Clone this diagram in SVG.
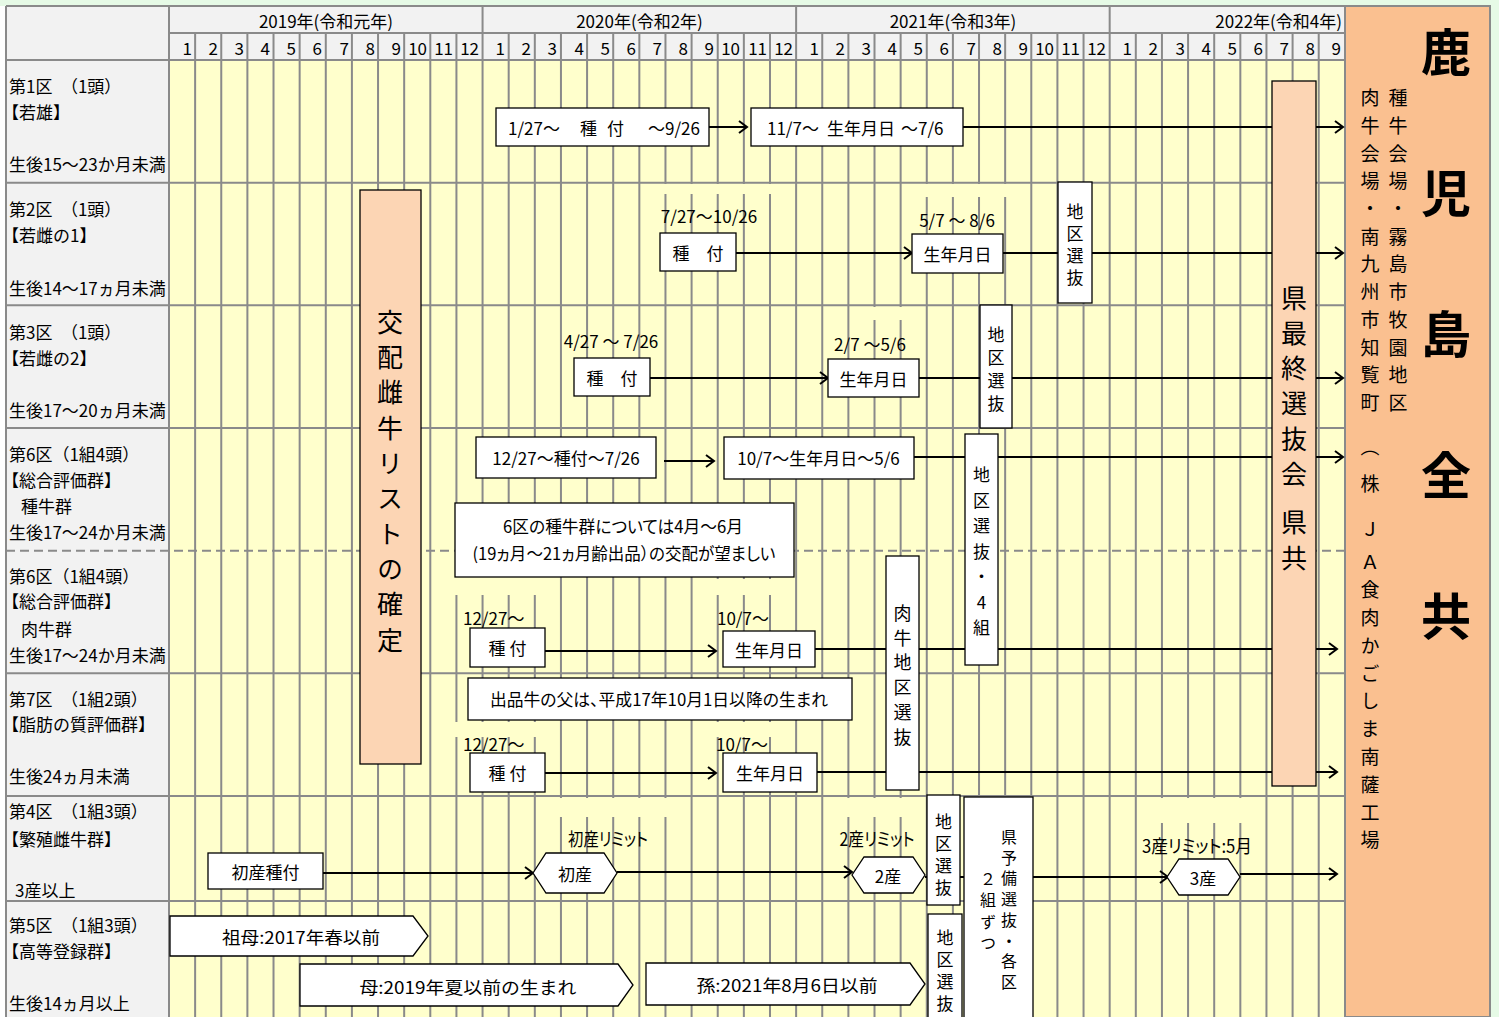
<svg xmlns="http://www.w3.org/2000/svg" width="1499" height="1017" viewBox="0 0 1499 1017">
<defs>
<style>
.t{font-family:"Noto Sans CJK JP","Noto Sans",sans-serif;font-size:17px;fill:#000;dominant-baseline:central}
.c{text-anchor:middle}
.e{text-anchor:end}
.v{writing-mode:vertical-rl;text-orientation:upright;text-anchor:start}
.p{font-feature-settings:"palt"}
.box{fill:#fff;stroke:#000;stroke-width:1.3}
.peach{fill:#fcd5b4;stroke:#000;stroke-width:1.3}
.grid{stroke:#8a8a8a;stroke-width:2;fill:none}
.cov{fill:#ffffcc}
.ln{stroke:#000;stroke-width:2;fill:none}
.ar{marker-end:url(#ah)}
</style>
<marker id="ah" markerUnits="userSpaceOnUse" markerWidth="12" markerHeight="16" refX="10" refY="8" orient="auto">
<path d="M2,2 L10,8 L2,14" fill="none" stroke="#000" stroke-width="2"/>
</marker>
</defs>
<rect x="0" y="0" width="1499" height="1017" fill="#e6fae6"/>
<rect x="0" y="6" width="1345" height="1011" fill="#fff"/>
<g id="table">
<rect x="6" y="6" width="163" height="1011" fill="#f2f2f2"/>
<rect x="169" y="6" width="1176" height="54" fill="#f2f2f2"/>
<rect x="169" y="60" width="1176" height="957" fill="#ffffcc"/>
<path class="grid" d="M195.13,33V1017M221.26,33V1017M247.39,33V1017M273.52,33V1017M299.65,33V1017M325.78,33V1017M351.91,33V1017M378.04,33V1017M404.17,33V1017M430.3,33V1017M456.43,33V1017M508.69,33V1017M534.82,33V1017M560.95,33V1017M587.08,33V1017M613.21,33V1017M639.34,33V1017M665.47,33V1017M691.6,33V1017M717.73,33V1017M743.86,33V1017M769.99,33V1017M822.25,33V1017M848.38,33V1017M874.51,33V1017M900.64,33V1017M926.77,33V1017M952.9,33V1017M979.03,33V1017M1005.16,33V1017M1031.29,33V1017M1057.42,33V1017M1083.55,33V1017M1135.81,33V1017M1161.94,33V1017M1188.07,33V1017M1214.2,33V1017M1240.33,33V1017M1266.46,33V1017M1292.59,33V1017M1318.72,33V1017"/>
<path class="grid" d="M169,6V1017M482.56,6V1017M796.12,6V1017M1109.68,6V1017M6,6V1017"/>
<path class="grid" d="M6,6H1490M169,33H1345M6,60H1345M6,182.7H1345M6,305.3H1345M6,428H1345M6,673.3H1345M6,796H1345M6,901H1345"/>
<path class="grid" d="M6,550.7H1345" stroke-dasharray="9,5"/>
</g>
<g id="covers">
<rect class="cov" x="660" y="184" width="112" height="10"/>
<rect class="cov" x="920" y="184" width="90" height="13"/>
<rect class="cov" x="862" y="307" width="44" height="13"/>
<rect class="cov" x="556" y="798" width="113" height="19"/>
<rect class="cov" x="845" y="798" width="59" height="19"/>
<rect class="cov" x="1140" y="798" width="103" height="25"/>
<rect class="cov" x="452" y="552" width="88" height="43"/>
<rect class="cov" x="713" y="579" width="60" height="16"/>
<rect class="cov" x="452" y="722" width="88" height="15"/>
<rect class="cov" x="713" y="722" width="60" height="15"/>
</g>
<g id="header">
<text class="t c" x="326" y="20">2019年(令和元年)</text>
<text class="t c" x="639.5" y="20">2020年(令和2年)</text>
<text class="t c" x="953" y="20">2021年(令和3年)</text>
<text class="t e" x="1342" y="20">2022年(令和4年)</text>
<g class="t e">
<text x="192" y="47">1</text><text x="218" y="47">2</text><text x="244" y="47">3</text><text x="270" y="47">4</text><text x="296" y="47">5</text><text x="322" y="47">6</text><text x="349" y="47">7</text><text x="375" y="47">8</text><text x="401" y="47">9</text><text x="427" y="47">10</text><text x="453" y="47">11</text><text x="479" y="47">12</text>
<text x="505" y="47">1</text><text x="531" y="47">2</text><text x="557" y="47">3</text><text x="584" y="47">4</text><text x="610" y="47">5</text><text x="636" y="47">6</text><text x="662" y="47">7</text><text x="688" y="47">8</text><text x="714" y="47">9</text><text x="740" y="47">10</text><text x="767" y="47">11</text><text x="793" y="47">12</text>
<text x="819" y="47">1</text><text x="845" y="47">2</text><text x="871" y="47">3</text><text x="897" y="47">4</text><text x="923" y="47">5</text><text x="949" y="47">6</text><text x="976" y="47">7</text><text x="1002" y="47">8</text><text x="1028" y="47">9</text><text x="1054" y="47">10</text><text x="1080" y="47">11</text><text x="1106" y="47">12</text>
<text x="1132" y="47">1</text><text x="1158" y="47">2</text><text x="1185" y="47">3</text><text x="1211" y="47">4</text><text x="1237" y="47">5</text><text x="1263" y="47">6</text><text x="1289" y="47">7</text><text x="1315" y="47">8</text><text x="1341" y="47">9</text>
</g>
</g>
<g id="row-labels" class="t">
<text x="9" y="85">第1区　（1頭）</text>
<text x="2" y="111">【若雄】</text>
<text x="9" y="163">生後15～23か月未満</text>
<text x="9" y="208">第2区　（1頭）</text>
<text x="2" y="234">【若雌の1】</text>
<text x="9" y="287">生後14～17ヵ月未満</text>
<text x="9" y="331">第3区　（1頭）</text>
<text x="2" y="357">【若雌の2】</text>
<text x="9" y="409">生後17～20ヵ月未満</text>
<text x="9" y="453">第6区（1組4頭）</text>
<text x="2" y="479">【総合評価群】</text>
<text x="21" y="505">種牛群</text>
<text x="9" y="531">生後17～24か月未満</text>
<text x="9" y="575">第6区（1組4頭）</text>
<text x="2" y="600">【総合評価群】</text>
<text x="21" y="628">肉牛群</text>
<text x="9" y="654">生後17～24か月未満</text>
<text x="9" y="698">第7区　（1組2頭）</text>
<text x="2" y="723">【脂肪の質評価群】</text>
<text x="9" y="775">生後24ヵ月未満</text>
<text x="9" y="810">第4区　（1組3頭）</text>
<text x="2" y="838">【繁殖雌牛群】</text>
<text x="15" y="889">3産以上</text>
<text x="9" y="924">第5区　（1組3頭）</text>
<text x="2" y="950">【高等登録群】</text>
<text x="9" y="1002">生後14ヵ月以上</text>
</g>
<g id="venue">
<rect x="1345" y="6" width="145" height="1011" fill="#fac090" stroke="#8a8a8a" stroke-width="2"/>
<text class="t v" x="1446" y="27" style="font-size:50px;letter-spacing:91px;font-weight:bold">鹿児島全共</text>
<text class="t v" x="1398" y="88.5" style="font-size:19px;letter-spacing:8.7px">種牛会場・霧島市牧園地区</text>
<text class="t v" x="1370" y="88.5" style="font-size:19px;letter-spacing:8.7px">肉牛会場・南九州市知覧町</text>
<text class="t c" x="1370" y="445" style="font-size:19px">︵</text>
<text class="t c" x="1370" y="482" style="font-size:19px">株</text>
<text class="t c" x="1370" y="527" style="font-size:19px">Ｊ</text>
<text class="t c" x="1370" y="560" style="font-size:19px">Ａ</text>
<text class="t v" x="1370" y="580.5" style="font-size:19px;letter-spacing:8.8px">食肉かごしま南薩工場</text>
</g>
<g id="connectors">
<path class="ln ar" d="M709,127H747"/>
<path class="ln ar" d="M963,127H1343"/>
<path class="ln ar" d="M736,253H912"/>
<path class="ln ar" d="M1003,253H1343"/>
<path class="ln ar" d="M650,378H828"/>
<path class="ln ar" d="M919,378H1343"/>
<path class="ln ar" d="M664,461H714"/>
<path class="ln ar" d="M914,457H1343"/>
<path class="ln ar" d="M545,651H716"/>
<path class="ln ar" d="M815,649H1337"/>
<path class="ln ar" d="M545,773H716"/>
<path class="ln ar" d="M817,772H1337"/>
<path class="ln ar" d="M323,873H533"/>
<path class="ln ar" d="M617,872H852"/>
<path class="ln ar" d="M925,877H1168"/>
<path class="ln ar" d="M1240,874H1337"/>
</g>
<g id="n-kouhai"><rect class="peach" x="360" y="190" width="61" height="574"/>
<text class="t v" x="390" y="309" style="font-size:26px;letter-spacing:9.3px">交配雌牛リストの確定</text></g>
<g id="n-kensaishu"><rect class="peach" x="1272" y="81" width="44" height="705"/>
<text class="t v" x="1294" y="285" style="font-size:26px;letter-spacing:9.2px">県最終選抜会</text>
<text class="t v" x="1294" y="509" style="font-size:26px;letter-spacing:10px">県共</text></g>
<g id="n-r1-tanetsuke"><rect class="box" x="496" y="108" width="213" height="38"/>
<text class="t" y="127"><tspan x="508">1/27～</tspan><tspan x="580">種</tspan><tspan x="607">付</tspan><tspan x="648">～9/26</tspan></text></g>
<g id="n-r1-birth"><rect class="box" x="751" y="108" width="212" height="38"/>
<text class="t" y="127"><tspan x="767">11/7～</tspan><tspan x="827">生年月日</tspan><tspan x="901">～7/6</tspan></text></g>
<g id="n-r2-tanetsuke"><text class="t c" x="709" y="215">7/27～10/26</text>
<rect class="box" x="660" y="233" width="76" height="38"/><text class="t c" x="698" y="252">種　付</text></g>
<g id="n-r2-birth"><text class="t c" x="957" y="219">5/7 ～ 8/6</text>
<rect class="box" x="912" y="234" width="91" height="39"/><text class="t c" x="957.5" y="253">生年月日</text></g>
<g id="n-r2-chiku"><rect class="box" x="1058" y="182" width="34" height="121"/>
<text class="t v" x="1075" y="203.5" style="letter-spacing:4.7px">地区選抜</text></g>
<g id="n-r3-tanetsuke"><text class="t c" x="611" y="340">4/27 ～ 7/26</text>
<rect class="box" x="574" y="358" width="76" height="38"/><text class="t c" x="612" y="377">種　付</text></g>
<g id="n-r3-birth"><text class="t c" x="870" y="343">2/7 ～5/6</text>
<rect class="box" x="828" y="359" width="91" height="38"/><text class="t c" x="873.5" y="378">生年月日</text></g>
<g id="n-r3-chiku"><rect class="box" x="980" y="305" width="32" height="123"/>
<text class="t v" x="996" y="326.5" style="letter-spacing:5.7px">地区選抜</text></g>
<g id="n-r4-tanetsuke"><rect class="box" x="476" y="437" width="180" height="41"/>
<text class="t c" x="566" y="457">12/27～種付～7/26</text></g>
<g id="n-r4-birth"><rect class="box" x="724" y="437" width="190" height="42"/>
<text class="t c" x="818.5" y="457">10/7～生年月日～5/6</text></g>
<g id="n-r4-chiku"><rect class="box" x="965" y="434" width="33" height="231"/>
<text class="t v" x="981.5" y="466.5" style="letter-spacing:8.5px">地区選抜・4組</text></g>
<g id="n-note6"><rect class="box" x="455" y="503" width="339" height="74"/>
<text class="t c p" x="623" y="525" textLength="240" lengthAdjust="spacingAndGlyphs">6区の種牛群については4月～6月</text>
<text class="t c p" x="624" y="552" textLength="303" lengthAdjust="spacingAndGlyphs">(19ヵ月～21ヵ月齢出品）の交配が望ましい</text></g>
<g id="n-r5-tanetsuke"><text class="t" x="463" y="617">12/27～</text>
<rect class="box" x="470" y="628" width="75" height="39"/><text class="t c" x="507.5" y="647">種 付</text></g>
<g id="n-r5-birth"><text class="t" x="717" y="617">10/7～</text>
<rect class="box" x="723" y="631" width="92" height="36"/><text class="t c" x="769" y="649">生年月日</text></g>
<g id="n-nikugyu-chiku"><rect class="box" x="886" y="556" width="33" height="234"/>
<text class="t v" x="902.5" y="604" style="font-size:18px;letter-spacing:6.8px">肉牛地区選抜</text></g>
<g id="n-note7"><rect class="box" x="468" y="678" width="384" height="42"/>
<text class="t c p" x="659" y="698" textLength="338" lengthAdjust="spacingAndGlyphs">出品牛の父は、平成17年10月1日以降の生まれ</text></g>
<g id="n-r6-tanetsuke"><text class="t" x="463" y="743">12/27～</text>
<rect class="box" x="470" y="753" width="75" height="39"/><text class="t c" x="507.5" y="772">種 付</text></g>
<g id="n-r6-birth"><text class="t" x="716" y="743">10/7～</text>
<rect class="box" x="723" y="753" width="94" height="39"/><text class="t c" x="770" y="772">生年月日</text></g>
<g id="n-r7-shosan-tane"><rect class="box" x="208" y="853" width="115" height="36"/>
<text class="t c" x="265.5" y="871">初産種付</text></g>
<g id="n-r7-shosan"><text class="t c p" x="608" y="838" style="font-size:18px" textLength="80" lengthAdjust="spacingAndGlyphs">初産リミット</text>
<polygon class="box" points="533,873 546,853 604,853 617,873 604,893 546,893"/><text class="t c" x="575" y="873">初産</text></g>
<g id="n-r7-2san"><text class="t c p" x="877" y="838" style="font-size:18px" textLength="75" lengthAdjust="spacingAndGlyphs">2産リミット</text>
<polygon class="box" points="852,875 864,857 913,857 925,875 913,893 864,893"/><text class="t c" x="888" y="875">2産</text></g>
<g id="n-r7-chiku"><rect class="box" x="927" y="795" width="33" height="110"/>
<text class="t v" x="943.5" y="813.5" style="letter-spacing:5px">地区選抜</text></g>
<g id="n-r8-chiku"><rect class="box" x="928" y="914" width="34" height="110"/>
<text class="t v" x="945" y="929.5" style="letter-spacing:4.7px">地区選抜</text></g>
<g id="n-ken-yobi"><rect class="box" x="964" y="797" width="69" height="226"/>
<text class="t v" x="1009" y="829" style="font-size:16px;letter-spacing:4.7px">県予備選抜・各区</text>
<text class="t v" x="988" y="871" style="font-size:16px;letter-spacing:5.3px">２組ずつ</text></g>
<g id="n-r7-3san"><text class="t c p" x="1197" y="845" style="font-size:18px" textLength="110" lengthAdjust="spacingAndGlyphs">3産リミット:5月</text>
<polygon class="box" points="1167,877 1179,859 1228,859 1240,877 1228,895 1179,895"/><text class="t c" x="1203" y="877">3産</text></g>
<g id="n-sobo"><polygon class="box" points="170,916 413,916 428,936 413,956 170,956"/>
<text class="t c" x="301" y="936" textLength="158" lengthAdjust="spacingAndGlyphs">祖母:2017年春以前</text></g>
<g id="n-haha"><polygon class="box" points="300,964 618,964 633,985 618,1006 300,1006"/>
<text class="t c" x="468" y="986" textLength="217" lengthAdjust="spacingAndGlyphs">母:2019年夏以前の生まれ</text></g>
<g id="n-mago"><polygon class="box" points="646,963 910,963 925,984 910,1005 646,1005"/>
<text class="t c" x="787" y="984" textLength="181" lengthAdjust="spacingAndGlyphs">孫:2021年8月6日以前</text></g>
</svg>
